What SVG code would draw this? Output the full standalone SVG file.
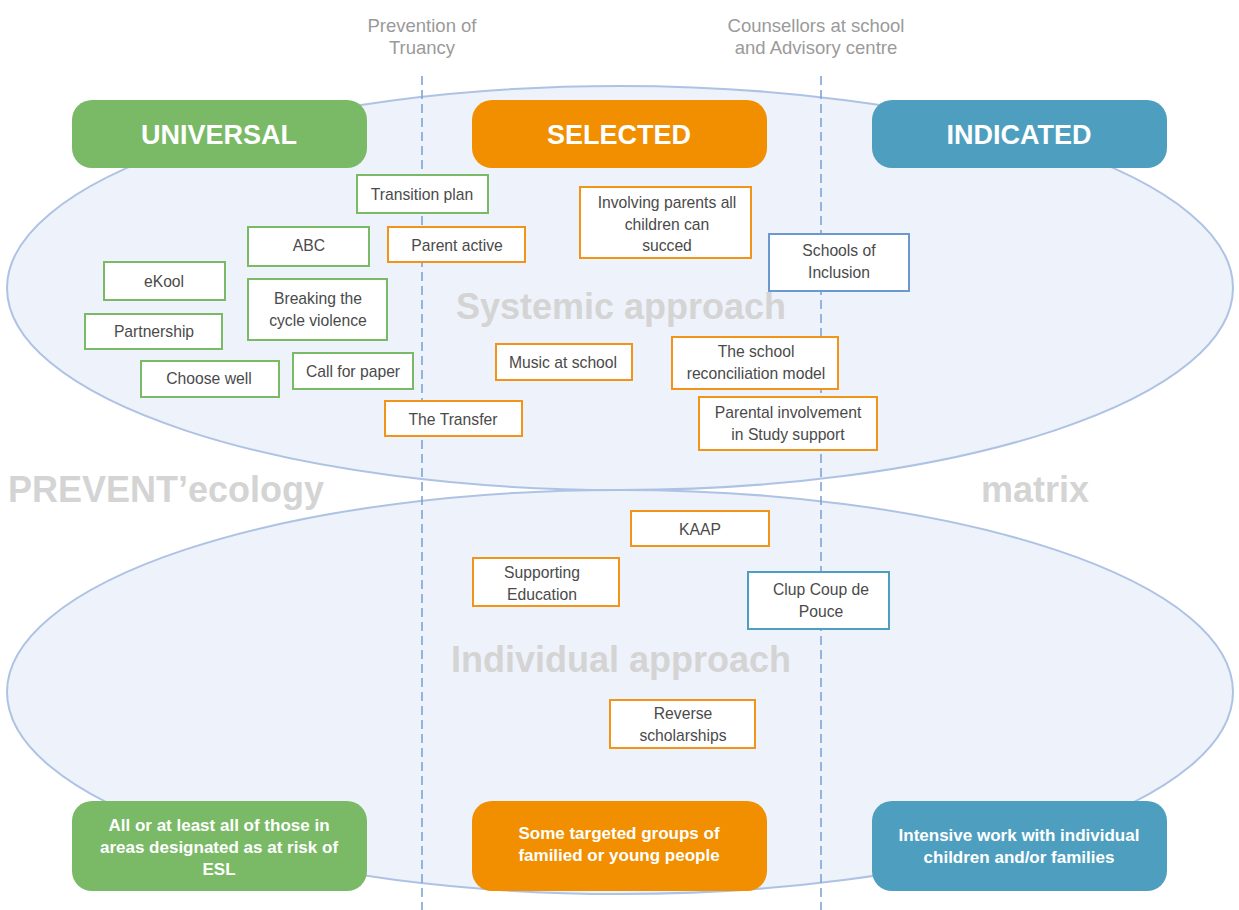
<svg xmlns="http://www.w3.org/2000/svg" width="1239" height="910" viewBox="0 0 1239 910">
<style>
.ell{fill:#eef2fa;stroke:#aec3e4;stroke-width:2}
.dash{stroke:#7fa3d6;stroke-width:1.6;stroke-dasharray:9 5;fill:none}
.box{fill:#fff;stroke-width:2}
.g{stroke:#7aba67}.o{stroke:#f29418}.b{stroke:#6b98d0}.b2{stroke:#4e9fbf}
.t{font-family:"Liberation Sans",Arial,sans-serif;font-size:15.7px;fill:#4a4a4a;text-anchor:middle}
.hdr{font-family:"Liberation Sans",Arial,sans-serif;font-size:27px;font-weight:bold;fill:#fff;text-anchor:middle}
.ft{font-family:"Liberation Sans",Arial,sans-serif;font-size:17px;font-weight:bold;fill:#fff;text-anchor:middle}
.top{font-family:"Liberation Sans",Arial,sans-serif;font-size:18.5px;fill:#9a9a9a;text-anchor:middle}
.big{font-family:"Liberation Sans",Arial,sans-serif;font-size:36px;font-weight:bold;fill:#d4d4d4}
</style>
<rect width="1239" height="910" fill="#fff"/>
<ellipse class="ell" cx="620" cy="288" rx="613" ry="202"/>
<ellipse class="ell" cx="620" cy="692" rx="613" ry="202"/>
<text class="big" x="621" y="319" text-anchor="middle">Systemic approach</text>
<text class="big" x="621" y="672" text-anchor="middle">Individual approach</text>
<text class="big" x="8" y="502">PREVENT’ecology</text>
<text class="big" x="1035" y="502" text-anchor="middle">matrix</text>
<text class="top" x="422" y="32">Prevention of</text>
<text class="top" x="422" y="54">Truancy</text>
<text class="top" x="816" y="32">Counsellors at school</text>
<text class="top" x="816" y="54">and Advisory centre</text>
<g id="connectors">
<line class="dash" x1="422" y1="76" x2="422" y2="910"/>
<line class="dash" x1="821" y1="76" x2="821" y2="910"/>
</g>
<g id="universal"><rect x="72" y="100" width="295" height="68" rx="20" fill="#7aba67"/><text class="hdr" x="219" y="144">UNIVERSAL</text></g>
<g id="selected"><rect x="472" y="100" width="295" height="68" rx="20" fill="#f18f01"/><text class="hdr" x="619" y="144">SELECTED</text></g>
<g id="indicated"><rect x="872" y="100" width="295" height="68" rx="20" fill="#4e9fbf"/><text class="hdr" x="1019" y="144">INDICATED</text></g>
<g id="transition-plan"><rect class="box g" x="357" y="175" width="131" height="38"/><text class="t" x="422" y="200">Transition plan</text></g>
<g id="abc"><rect class="box g" x="248" y="227" width="121" height="39"/><text class="t" x="309" y="251">ABC</text></g>
<g id="parent-active"><rect class="box o" x="388" y="227" width="137" height="35"/><text class="t" x="457" y="251">Parent active</text></g>
<g id="ekool"><rect class="box g" x="104" y="262" width="121" height="38"/><text class="t" x="164" y="287">eKool</text></g>
<g id="breaking"><rect class="box g" x="248" y="279" width="139" height="61"/><text class="t" x="318" y="304">Breaking the</text><text class="t" x="318" y="326">cycle violence</text></g>
<g id="partnership"><rect class="box g" x="85" y="314" width="137" height="35"/><text class="t" x="154" y="337">Partnership</text></g>
<g id="choose-well"><rect class="box g" x="141" y="361" width="138" height="36"/><text class="t" x="209" y="384">Choose well</text></g>
<g id="call-for-paper"><rect class="box g" x="293" y="353" width="120" height="36"/><text class="t" x="353" y="377">Call for paper</text></g>
<g id="the-transfer"><rect class="box o" x="385" y="401" width="137" height="35"/><text class="t" x="453" y="425">The Transfer</text></g>
<g id="involving"><rect class="box o" x="580" y="187" width="171" height="71"/><text class="t" x="667" y="208">Involving parents all</text><text class="t" x="667" y="230">children can</text><text class="t" x="667" y="251">succed</text></g>
<g id="schools-inclusion"><rect class="box b" x="769" y="234" width="140" height="57"/><text class="t" x="839" y="256">Schools of</text><text class="t" x="839" y="278">Inclusion</text></g>
<g id="music"><rect class="box o" x="496" y="344" width="136" height="36"/><text class="t" x="563" y="368">Music at school</text></g>
<g id="reconciliation"><rect class="box o" x="672" y="337" width="166" height="52"/><text class="t" x="756" y="357">The school</text><text class="t" x="756" y="379">reconciliation model</text></g>
<g id="parental"><rect class="box o" x="699" y="397" width="178" height="53"/><text class="t" x="788" y="418">Parental involvement</text><text class="t" x="788" y="440">in Study support</text></g>
<g id="kaap"><rect class="box o" x="631" y="511" width="138" height="35"/><text class="t" x="700" y="535">KAAP</text></g>
<g id="supporting"><rect class="box o" x="473" y="558" width="146" height="48"/><text class="t" x="542" y="578">Supporting</text><text class="t" x="542" y="600">Education</text></g>
<g id="clup"><rect class="box b2" x="748" y="572" width="141" height="57"/><text class="t" x="821" y="595">Clup Coup de</text><text class="t" x="821" y="617">Pouce</text></g>
<g id="reverse"><rect class="box o" x="610" y="700" width="145" height="48"/><text class="t" x="683" y="719">Reverse</text><text class="t" x="683" y="741">scholarships</text></g>
<g id="foot-universal"><rect x="72" y="801" width="295" height="90" rx="20" fill="#7aba67"/><text class="ft" x="219" y="831">All or at least all of those in</text><text class="ft" x="219" y="853">areas designated as at risk of</text><text class="ft" x="219" y="875">ESL</text></g>
<g id="foot-selected"><rect x="472" y="801" width="295" height="90" rx="20" fill="#f18f01"/><text class="ft" x="619" y="839">Some targeted groups of</text><text class="ft" x="619" y="861">familied or young people</text></g>
<g id="foot-indicated"><rect x="872" y="801" width="295" height="90" rx="20" fill="#4e9fbf"/><text class="ft" x="1019" y="841">Intensive work with individual</text><text class="ft" x="1019" y="863">children and/or families</text></g>
</svg>
